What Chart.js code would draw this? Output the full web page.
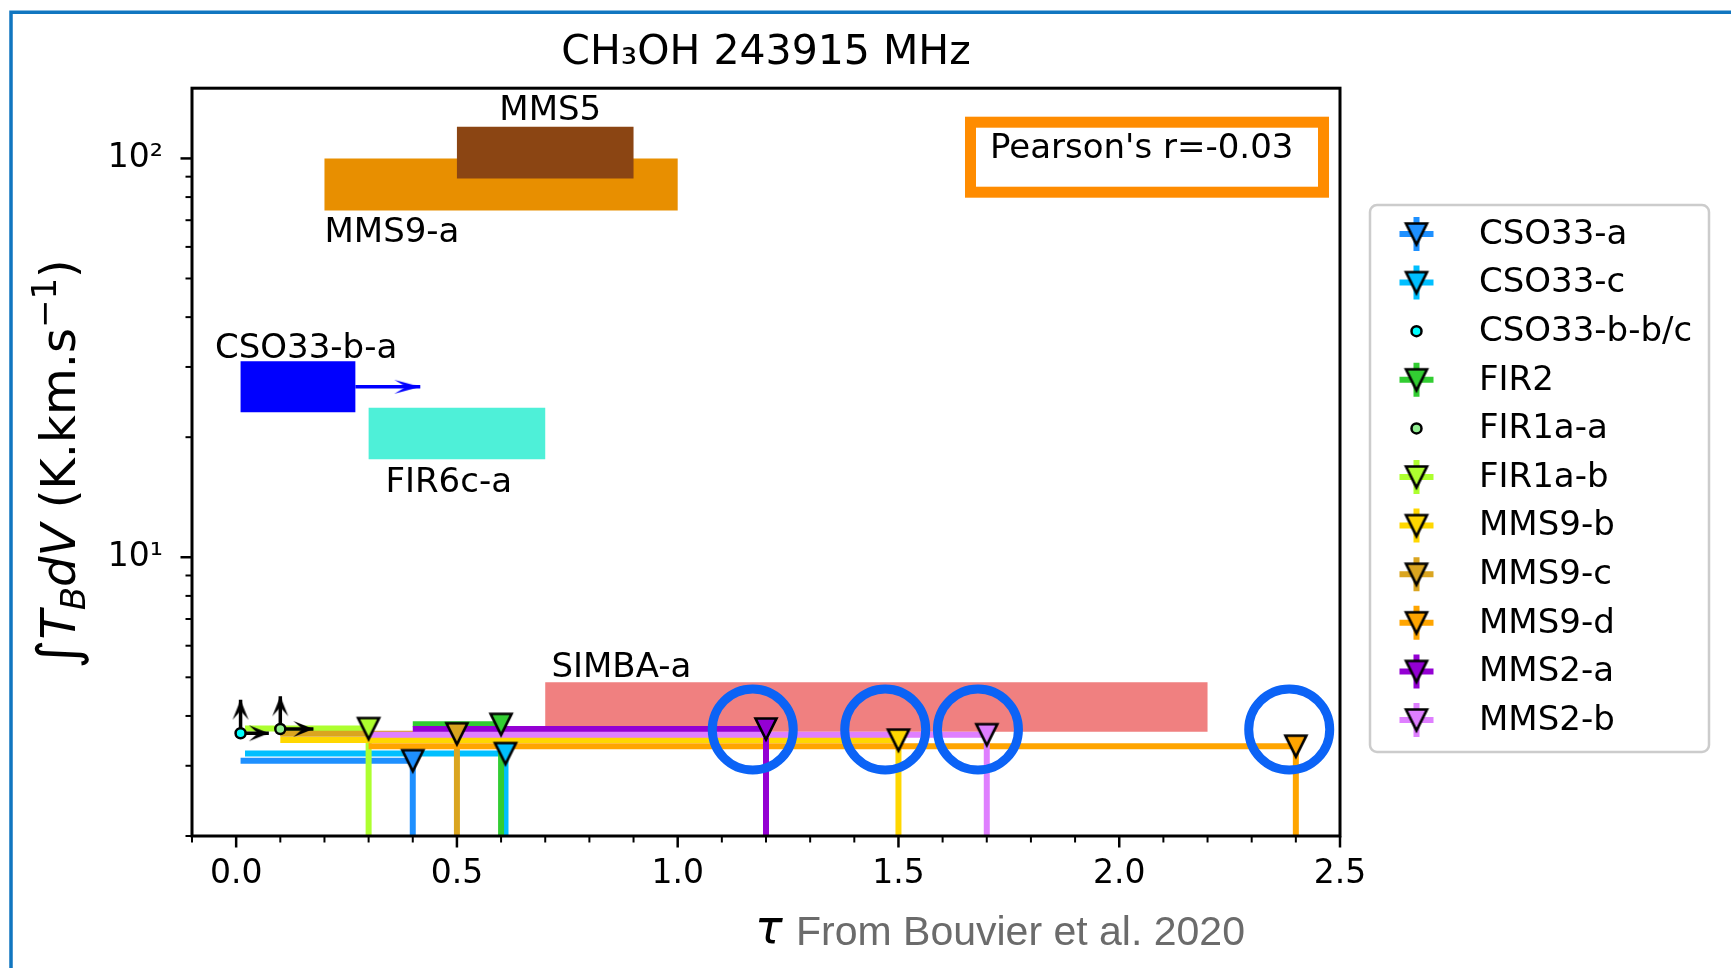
<!DOCTYPE html>
<html>
<head>
<meta charset="utf-8">
<title>CH3OH 243915 MHz</title>
<script src="https://cdn.jsdelivr.net/npm/chart.js@4.4.1/dist/chart.umd.min.js"></script>
<style>
  html, body { margin: 0; padding: 0; background: #ffffff; }
  canvas { display: block; }
</style>
</head>
<body>
<canvas id="tauChart" width="1731" height="968"></canvas>
<script>
// --- axis ranges ---
const tauMin = -0.1, tauMax = 2.5;
const fluxMin = 2, fluxMax = 150;

// --- tick labels ---
const tauTickLabels = ['0.0', '0.5', '1.0', '1.5', '2.0', '2.5'];
const fluxTickValues = [2, 3, 4, 5, 6, 7, 8, 9, 10, 20, 30, 40, 50, 60, 70, 80, 90, 100];
const fluxTickLabels = { 10: '10¹', 100: '10²' };

// --- point sources (upper limits on the integrated intensity) ---
const sourceNames  = ['CSO33-a', 'CSO33-c', 'CSO33-b-b/c', 'FIR2', 'FIR1a-a', 'FIR1a-b', 'MMS9-b', 'MMS9-c', 'MMS9-d', 'MMS2-a', 'MMS2-b'];
const sourceColors = ['#1e90ff', '#00bfff', '#00ffff', '#32cd32', '#90ee90', '#adff2f', '#ffd700', '#daa520', '#ffa500', '#9400d3', '#df7fff'];
const sourceTau    = [0.40, 0.61, 0.01, 0.60, 0.10, 0.30, 1.50, 0.50, 2.40, 1.20, 1.70];
const sourceTauLow = [0.01, 0.02, null, 0.40, null, 0.02, 0.10, 0.10, 0.30, 0.40, 0.30];
const sourceFlux   = [3.09, 3.22, 3.62, 3.81, 3.71, 3.72, 3.48, 3.61, 3.36, 3.71, 3.59];
const sourceIsUpperLimit = [true, true, false, true, false, true, true, true, true, true, true];
// lower limits drawn as arrows (tau to the right, flux upwards)
const limitTauTo  = [null, null, 0.074, null, 0.175, null, null, null, null, null, null];
const limitFluxTo = [null, null, 4.39, null, 4.48, null, null, null, null, null, null];

// --- sources with a measured range, drawn as boxes ---
const boxNames     = ['MMS9-a', 'MMS5', 'CSO33-b-a', 'FIR6c-a', 'SIMBA-a'];
const boxTauLow    = [0.20, 0.50, 0.01, 0.30, 0.70];
const boxTauHigh   = [1.00, 0.90, 0.27, 0.70, 2.20];
const boxFluxLow   = [74, 89, 23.1, 17.6, 3.65];
const boxFluxHigh  = [100, 120, 31.0, 23.7, 4.86];
const boxColors    = ['#e88f00', '#8b4513', '#0000ff', '#4ef0d8', '#f08080'];
const boxArrowTauTo = [null, null, 0.417, null, null];
const boxLabelTau  = [0.20, 0.596, -0.048, 0.338, 0.714];
const boxLabelFlux = [61.8, 124.7, 31.6, 14.6, 5.01];

// --- highlighted sources ---
const ringTau  = [1.17, 1.47, 1.68, 2.385];
const ringFlux = [3.70, 3.70, 3.70, 3.70];

const pearsonText = "Pearson's r=-0.03";

const FONT = 'DejaVu Sans';

// downward triangle marker with black edge
function triangleMarker(color) {
  const c = document.createElement('canvas');
  c.width = 30; c.height = 30;
  const g = c.getContext('2d');
  const h = 10.5;
  g.beginPath();
  g.moveTo(15 - h, 15 - h);
  g.lineTo(15 + h, 15 - h);
  g.lineTo(15, 15 + h);
  g.closePath();
  g.fillStyle = color;
  g.fill();
  g.lineWidth = 2.6;
  g.strokeStyle = '#000';
  g.stroke();
  return c;
}

// arrow head pointing right, tip in the middle of the canvas
function arrowHead(color, len, half) {
  const c = document.createElement('canvas');
  c.width = 2 * len + 4; c.height = 2 * half + 4;
  const g = c.getContext('2d');
  const cx = c.width / 2, cy = c.height / 2;
  g.beginPath();
  g.moveTo(cx, cy);
  g.lineTo(cx - len, cy - half);
  g.lineTo(cx - len * 0.55, cy);
  g.lineTo(cx - len, cy + half);
  g.closePath();
  g.fillStyle = color;
  g.fill();
  return c;
}

const triangles = sourceColors.map(triangleMarker);
const blackHead = arrowHead('#000', 20, 8);
const blueHead = arrowHead('#0000ff', 26, 7);

const datasets = [];

// boxes
boxNames.forEach((name, i) => {
  datasets.push({
    label: name,
    order: 400 - i,
    data: [
      { x: boxTauLow[i], y: boxFluxLow[i] },
      { x: boxTauLow[i], y: boxFluxHigh[i] },
      { x: boxTauHigh[i], y: boxFluxHigh[i] },
      { x: boxTauHigh[i], y: boxFluxLow[i] }
    ],
    fill: 'shape',
    backgroundColor: boxColors[i],
    borderColor: 'rgba(0,0,0,0)',
    borderWidth: 0,
    pointRadius: 0
  });
  if (boxArrowTauTo[i] != null) {
    const mid = Math.sqrt(boxFluxLow[i] * boxFluxHigh[i]);
    datasets.push({
      order: 390 - i,
      data: [{ x: boxTauHigh[i], y: mid }, { x: boxArrowTauTo[i], y: mid }],
      borderColor: boxColors[i],
      borderWidth: 3.5,
      fill: false,
      pointRadius: [0, 8],
      pointStyle: blueHead
    });
  }
});

// error bars, limit arrows and markers of the point sources
sourceNames.forEach((name, i) => {
  const t = sourceTau[i], f = sourceFlux[i];
  if (sourceIsUpperLimit[i]) {
    datasets.push({
      order: 300 - i,
      data: [
        { x: sourceTauLow[i], y: f }, { x: t, y: f },
        { x: t, y: null },
        { x: t, y: f }, { x: t, y: fluxMin }
      ],
      borderColor: sourceColors[i],
      borderWidth: 6,
      borderCapStyle: 'butt',
      fill: false,
      pointRadius: 0
    });
  }
  if (limitTauTo[i] != null) {
    datasets.push({
      order: 200 - i,
      data: [{ x: t, y: f }, { x: limitTauTo[i], y: f }],
      borderColor: '#000', borderWidth: 3.5, fill: false,
      pointRadius: [0, 8], pointStyle: blackHead
    });
    datasets.push({
      order: 200 - i,
      data: [{ x: t, y: f }, { x: t, y: limitFluxTo[i] }],
      borderColor: '#000', borderWidth: 3.5, fill: false,
      pointRadius: [0, 8], pointStyle: blackHead, pointRotation: -90
    });
  }
  datasets.push({
    label: name,
    order: 100 - i,
    showLine: false,
    data: [{ x: t, y: f }],
    pointStyle: sourceIsUpperLimit[i] ? triangles[i] : 'circle',
    pointRadius: sourceIsUpperLimit[i] ? 12 : 5,
    pointBorderWidth: 2.5,
    pointBorderColor: '#000',
    pointBackgroundColor: sourceColors[i]
  });
});

// rings around highlighted sources
datasets.push({
  order: 0,
  showLine: false,
  data: ringTau.map((t, i) => ({ x: t, y: ringFlux[i] })),
  pointStyle: 'circle',
  pointRadius: 40.5,
  pointBorderWidth: 9,
  pointBorderColor: '#0b63f6',
  pointBackgroundColor: 'rgba(0,0,0,0)'
});

// axes frame, tick marks, annotations, legend, axis titles
const decorations = {
  id: 'decorations',
  beforeDraw(chart) {
    const ctx = chart.ctx;
    ctx.save();
    ctx.fillStyle = '#fff';
    ctx.fillRect(0, 0, chart.width, chart.height);
    ctx.restore();
  },
  afterDatasetsDraw(chart) {
    const { ctx, chartArea: a, scales } = chart;
    ctx.save();
    // box labels
    ctx.fillStyle = '#000';
    ctx.font = `34px "${FONT}"`;
    ctx.textAlign = 'left';
    ctx.textBaseline = 'alphabetic';
    boxNames.forEach((name, i) => {
      ctx.fillText(name, scales.x.getPixelForValue(boxLabelTau[i]), scales.y.getPixelForValue(boxLabelFlux[i]));
    });

    // Pearson annotation
    ctx.strokeStyle = '#ff8c00';
    ctx.lineWidth = 11;
    ctx.strokeRect(a.left + 778.5, a.top + 34, 353, 70);
    ctx.font = `34px "${FONT}"`;
    ctx.fillText(pearsonText, a.left + 798, a.top + 70);

    // spines
    ctx.strokeStyle = '#000';
    ctx.lineWidth = 3;
    ctx.strokeRect(a.left, a.top, a.right - a.left, a.bottom - a.top);

    // x ticks
    scales.x.ticks.forEach(tk => {
      const px = scales.x.getPixelForValue(tk.value);
      const major = Math.round(tk.value * 10) % 5 === 0;
      ctx.lineWidth = major ? 2.5 : 2;
      ctx.beginPath();
      ctx.moveTo(px, a.bottom);
      ctx.lineTo(px, a.bottom + (major ? 11.5 : 6.5));
      ctx.stroke();
    });
    // y ticks
    scales.y.ticks.forEach(tk => {
      const py = scales.y.getPixelForValue(tk.value);
      const major = tk.value in fluxTickLabels;
      ctx.lineWidth = major ? 2.5 : 2;
      ctx.beginPath();
      ctx.moveTo(a.left, py);
      ctx.lineTo(a.left - (major ? 11.5 : 6.5), py);
      ctx.stroke();
    });
    ctx.restore();
  },
  afterDraw(chart) {
    const ctx = chart.ctx;
    ctx.save();

    // legend
    const lx = 1370, ly = 205, lw = 339, lh = 547;
    ctx.fillStyle = 'rgba(255,255,255,0.8)';
    ctx.strokeStyle = '#cccccc';
    ctx.lineWidth = 2.5;
    ctx.beginPath();
    ctx.roundRect(lx, ly, lw, lh, 7);
    ctx.fill();
    ctx.stroke();
    ctx.font = `34px "${FONT}"`;
    ctx.textAlign = 'left';
    ctx.textBaseline = 'middle';
    sourceNames.forEach((name, i) => {
      const y = ly + 29 + i * 48.6;
      const mx = lx + 46.5;
      if (sourceIsUpperLimit[i]) {
        ctx.strokeStyle = sourceColors[i];
        ctx.lineWidth = 6;
        ctx.beginPath();
        ctx.moveTo(mx - 17, y); ctx.lineTo(mx + 17, y);
        ctx.moveTo(mx, y - 17); ctx.lineTo(mx, y + 17);
        ctx.stroke();
        ctx.drawImage(triangles[i], mx - 15, y - 15);
      } else {
        ctx.beginPath();
        ctx.arc(mx, y, 5, 0, Math.PI * 2);
        ctx.fillStyle = sourceColors[i];
        ctx.fill();
        ctx.lineWidth = 2.5;
        ctx.strokeStyle = '#000';
        ctx.stroke();
      }
      ctx.fillStyle = '#000';
      ctx.fillText(name, lx + 109, y + 1);
    });

    // y axis title: integral of T_B dV (K.km.s^-1)
    ctx.translate(58, 464);
    ctx.rotate(-Math.PI / 2);
    const base = 48, small = 34;
    const parts = [
      { t: '∫', font: `${base + 8}px "${FONT}"`, dy: 2 },
      { t: 'T', font: `italic ${base}px "${FONT}"`, dy: 0 },
      { t: 'B', font: `italic ${small}px "${FONT}"`, dy: 10 },
      { t: 'dV', font: `italic ${base}px "${FONT}"`, dy: 0 },
      { t: ' (K.km.s', font: `${base}px "${FONT}"`, dy: 0 },
      { t: '−1', font: `${small}px "${FONT}"`, dy: -19 },
      { t: ')', font: `${base}px "${FONT}"`, dy: 0 }
    ];
    let total = 0;
    parts.forEach(p => { ctx.font = p.font; p.w = ctx.measureText(p.t).width; total += p.w; });
    let cx = -total / 2;
    ctx.textBaseline = 'alphabetic';
    ctx.fillStyle = '#000';
    parts.forEach(p => {
      ctx.font = p.font;
      ctx.fillText(p.t, cx, 17 + p.dy);
      cx += p.w;
    });
    ctx.setTransform(1, 0, 0, 1, 0, 0);

    // x axis title
    ctx.textBaseline = 'alphabetic';
    ctx.fillStyle = '#000';
    ctx.font = `italic 46px "${FONT}"`;
    ctx.fillText('τ', 755, 943);
    ctx.fillStyle = '#6b6b6b';
    ctx.font = '41px "Liberation Sans"';
    ctx.fillText('From Bouvier et al. 2020', 796, 945);

    // outer blue frame
    ctx.strokeStyle = '#1176c0';
    ctx.lineWidth = 3.5;
    ctx.beginPath();
    ctx.moveTo(9.5, 12.3); ctx.lineTo(chart.width, 12.3);
    ctx.moveTo(11, 10.5); ctx.lineTo(11, chart.height);
    ctx.stroke();
    ctx.restore();
  }
};

new Chart(document.getElementById('tauChart'), {
  type: 'line',
  data: { datasets },
  options: {
    responsive: false,
    animation: false,
    events: [],
    layout: { padding: { left: 0, right: 391, top: 0, bottom: 0 } },
    plugins: {
      legend: { display: false },
      tooltip: { enabled: false },
      title: {
        display: true,
        text: 'CH₃OH 243915 MHz',
        fullSize: false,
        color: '#000',
        font: { family: FONT, size: 41, weight: 'normal' },
        padding: { top: 29, bottom: 10 }
      }
    },
    scales: {
      x: {
        type: 'linear',
        min: tauMin,
        max: tauMax,
        afterFit: s => { s.height = 132; },
        afterBuildTicks: s => {
          const ticks = [];
          for (let k = Math.round(tauMin * 10); k <= Math.round(tauMax * 10); k++) ticks.push({ value: k / 10 });
          s.ticks = ticks;
        },
        grid: { display: false, drawTicks: false },
        border: { display: false },
        ticks: {
          autoSkip: false,
          maxRotation: 0,
          padding: 19,
          color: '#000',
          font: { family: FONT, size: 33 },
          callback: v => {
            const k = Math.round(v * 10);
            return (k >= 0 && k % 5 === 0) ? tauTickLabels[k / 5] : '';
          }
        }
      },
      y: {
        type: 'logarithmic',
        min: fluxMin,
        max: fluxMax,
        afterFit: s => { s.width = 192; },
        afterBuildTicks: s => { s.ticks = fluxTickValues.map(v => ({ value: v })); },
        grid: { display: false, drawTicks: false },
        border: { display: false },
        ticks: {
          autoSkip: false,
          padding: 29,
          color: '#000',
          font: { family: FONT, size: 33 },
          callback: v => fluxTickLabels[v] || ''
        }
      }
    }
  },
  plugins: [decorations]
});
</script>
</body>
</html>
